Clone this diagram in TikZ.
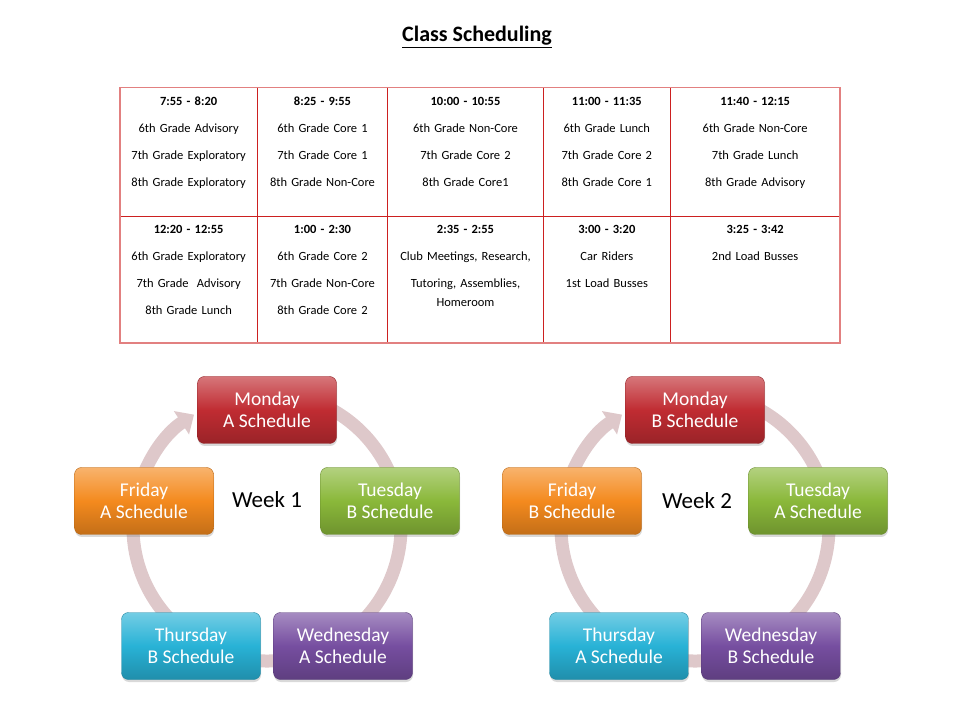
\documentclass[tikz,border=0pt]{standalone}
\usepackage{fontspec}
\setmainfont{Carlito}
\usetikzlibrary{arrows.meta}
\usetikzlibrary{calc}
\usetikzlibrary{fit}
\usetikzlibrary{positioning}
\usetikzlibrary{shadows}

\definecolor{tabline}{RGB}{204,32,32}
\definecolor{tabedge}{RGB}{226,128,128}
\definecolor{ringcol}{RGB}{222,200,202}
\definecolor{monred}{RGB}{192,44,50}
\definecolor{tuegreen}{RGB}{138,184,58}
\definecolor{wedpurple}{RGB}{118,78,160}
\definecolor{thucyan}{RGB}{40,178,214}
\definecolor{friorange}{RGB}{244,138,30}

\tikzset{
  cell/.style={draw=tabline,line width=0.8pt,inner sep=0pt,outer sep=0pt,align=center,
    text height=17.8pt,font=\fontsize{12.5}{27}\selectfont},
  toprow/.style={cell,text depth=110.5pt},
  botrow/.style={cell,text depth=109.2pt},
  day/.style={rounded corners=7pt,minimum width=139pt,minimum height=67pt,inner sep=0pt,
    align=center,text=white,font=\fontsize{19.5}{22}\selectfont,draw=#1!75!black,
    top color=#1!65!white,bottom color=#1!80!black,middle color=#1,
    drop shadow={opacity=0.3,shadow xshift=0.5pt,shadow yshift=-2.5pt}},
  week/.style={font=\fontsize{23}{26}\selectfont},
  ring/.style={draw=ringcol,line width=13pt,-{Triangle[width=27pt,length=15pt]}}
}

\begin{document}
\begin{tikzpicture}[x=1pt,y=1pt]
  \useasboundingbox (0,0) rectangle (960,720);

  \node [anchor=base,font=\fontsize{22}{26}\selectfont\bfseries] (title) at (477,678) {\underline{Class Scheduling}};

  % schedule table
  \node [toprow,text width=137.3pt,anchor=north west] (t1) at (120,632.3)
    {\textbf{7:55 - 8:20}\\6th Grade Advisory\\7th Grade Exploratory\\8th Grade Exploratory};
  \node [toprow,text width=130.4pt,right=0pt of t1] (t2)
    {\textbf{8:25 - 9:55}\\6th Grade Core 1\\7th Grade Core 1\\8th Grade Non-Core};
  \node [toprow,text width=155.6pt,right=0pt of t2] (t3)
    {\textbf{10:00 - 10:55}\\6th Grade Non-Core\\7th Grade Core 2\\8th Grade Core1};
  \node [toprow,text width=127pt,right=0pt of t3] (t4)
    {\textbf{11:00 - 11:35}\\6th Grade Lunch\\7th Grade Core 2\\8th Grade Core 1};
  \node [toprow,text width=169.7pt,right=0pt of t4] (t5)
    {\textbf{11:40 - 12:15}\\6th Grade Non-Core\\7th Grade Lunch\\8th Grade Advisory};

  \node [botrow,text width=137.3pt,below=0pt of t1] (t6)
    {\textbf{12:20 - 12:55}\\6th Grade Exploratory\\7th Grade\ \ Advisory\\8th Grade Lunch};
  \node [botrow,text width=130.4pt,right=0pt of t6] (t7)
    {\textbf{1:00 - 2:30}\\6th Grade Core 2\\7th Grade Non-Core\\8th Grade Core 2};
  \node [botrow,text width=155.6pt,right=0pt of t7] (t8)
    {\textbf{2:35 - 2:55}\\Club Meetings, Research,\\Tutoring, Assemblies,\\[-8pt]Homeroom};
  \node [botrow,text width=127pt,right=0pt of t8] (t9)
    {\textbf{3:00 - 3:20}\\Car Riders\\1st Load Busses};
  \node [botrow,text width=169.7pt,right=0pt of t9] (t10)
    {\textbf{3:25 - 3:42}\\2nd Load Busses};

  \node [draw=tabedge,line width=1.6pt,inner sep=0pt,fit=(t1) (t10)] (table) {};

  % week 1 cycle
  \coordinate (wk1) at (267,193);
  \draw [ring] ($(wk1)+(80:134)$) arc [start angle=80,end angle=-237,radius=134pt];
  \node [week] (lab1) at ($(wk1)+(0,27)$) {Week 1};
  \node [day=monred]    (mon1) at ($(wk1)+(0,117)$)    {Monday\\A Schedule};
  \node [day=tuegreen]  (tue1) at ($(wk1)+(123,26)$)   {Tuesday\\B Schedule};
  \node [day=wedpurple] (wed1) at ($(wk1)+(76,-119)$)  {Wednesday\\A Schedule};
  \node [day=thucyan]   (thu1) at ($(wk1)+(-76,-119)$) {Thursday\\B Schedule};
  \node [day=friorange] (fri1) at ($(wk1)+(-123,26)$)  {Friday\\A Schedule};

  % week 2 cycle
  \coordinate (wk2) at (695,193);
  \draw [ring] ($(wk2)+(80:134)$) arc [start angle=80,end angle=-237,radius=134pt];
  \node [week] (lab2) at ($(wk2)+(2,26)$) {Week 2};
  \node [day=monred]    (mon2) at ($(wk2)+(0,117)$)    {Monday\\B Schedule};
  \node [day=tuegreen]  (tue2) at ($(wk2)+(123,26)$)   {Tuesday\\A Schedule};
  \node [day=wedpurple] (wed2) at ($(wk2)+(76,-119)$)  {Wednesday\\B Schedule};
  \node [day=thucyan]   (thu2) at ($(wk2)+(-76,-119)$) {Thursday\\A Schedule};
  \node [day=friorange] (fri2) at ($(wk2)+(-123,26)$)  {Friday\\B Schedule};

\end{tikzpicture}
\end{document}
